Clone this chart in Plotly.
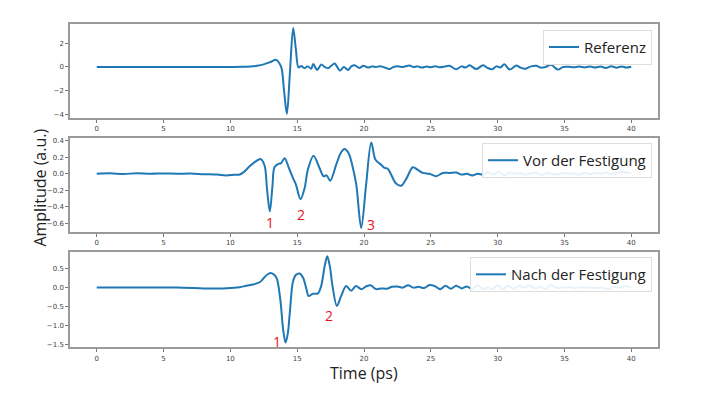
import plotly.graph_objects as go

# ---------------- data ----------------
t_ref = [0, 2, 4, 6, 8, 10, 11, 11.5, 12, 12.5, 13, 13.43, 13.8, 14.0, 14.23, 14.45, 14.7, 14.9, 15.1, 15.3,
         15.55, 15.8, 16.05, 16.2, 16.5, 16.8, 17.05, 17.3, 17.55, 17.8, 18.2, 18.5, 18.8, 19.05, 19.3, 19.65,
         19.95, 20.3, 20.6, 20.9, 21.2, 21.55, 21.9, 22.2, 22.55, 22.9, 23.4, 23.7, 24.0, 24.35, 24.7, 25.0,
         25.35, 25.7, 26.05, 26.4, 26.9, 27.3, 27.6, 27.9, 28.4, 28.9, 29.2, 29.6, 29.9, 30.2, 30.5, 30.9,
         31.4, 31.7, 32.1, 32.5, 32.9, 33.2, 33.6, 34.0, 34.5, 34.9, 35.3, 35.7, 36.1, 36.5, 36.9, 37.3,
         37.7, 38.1, 38.5, 38.9, 39.3, 39.6, 40.0]
v_ref = [0, 0, 0, 0, 0, 0, 0.01, 0.04, 0.1, 0.22, 0.42, 0.6, 0.0, -1.8, -3.94, -0.6, 3.28, 1.5, -0.05, 0.08,
         -0.1, 0.05, -0.15, 0.25, -0.25, 0.2, 0.0, -0.1, 0.1, 0.3, -0.3, 0.0, -0.25, 0.05, 0.15, -0.08,
         0.1, -0.05, 0.05, 0.0, 0.06, -0.05, -0.18, 0.0, 0.05, 0.0, 0.12, 0.0, 0.05, -0.05, 0.03, -0.02,
         0.05, -0.03, 0.04, 0.1, -0.2, 0.05, -0.05, 0.14, -0.18, 0.14, -0.05, -0.2, 0.05, -0.05, 0.22, -0.22,
         0.12, -0.05, -0.15, 0.05, 0.1, -0.05, 0.0, 0.18, -0.22, 0.0, 0.02, -0.02, 0.03, -0.04, 0.03, -0.05,
         0.04, -0.08, 0.05, -0.06, 0.04, -0.05, 0.02]

t_vor = [0, 1, 2, 3, 4, 5, 6, 7, 8, 9, 9.7, 10.3, 10.7, 11.0, 11.44, 11.9, 12.26, 12.56, 12.75, 12.95,
         13.15, 13.3, 13.6, 13.8, 14.06, 14.38, 14.68, 14.9, 15.25, 15.55, 15.8, 16.22, 16.67, 16.97, 17.2,
         17.47, 17.92, 18.25, 18.54, 18.85, 19.1, 19.42, 19.79, 20.16, 20.54, 20.86, 21.28, 21.55, 21.78,
         22.0, 22.4, 22.78, 23.2, 23.65, 24.0, 24.4, 24.9, 25.4, 25.9, 26.4, 26.9, 27.3, 27.7, 28.1, 28.5,
         28.9, 29.3, 29.7, 30.1, 30.5, 30.9, 31.3, 31.7, 32.1, 32.5, 32.9, 33.3, 33.7, 34.1, 34.5, 34.9,
         35.3, 35.7, 36.1, 36.5, 36.9, 37.3, 37.7, 38.1, 38.5, 38.9, 39.3, 39.7, 40.0]
v_vor = [0, 0.005, -0.003, 0.006, 0.0, 0.004, 0.0, 0.002, -0.005, -0.01, -0.02, -0.012, -0.01, 0.02, 0.09,
         0.15, 0.18, 0.1, -0.2, -0.46, -0.15, 0.08, 0.12, 0.13, 0.19, 0.07, -0.05, -0.13, -0.31, -0.18,
         0.05, 0.22, 0.07, -0.03, -0.02, -0.085, 0.11, 0.25, 0.3, 0.25, 0.12, -0.13, -0.66, -0.13, 0.38,
         0.17, 0.11, 0.07, 0.06, 0.0, -0.12, -0.145, -0.05, 0.08, 0.05, 0.01, 0.0, -0.03, 0.01, 0.01, 0.015,
         -0.01, 0.0, -0.02, 0.0, -0.01, 0.015, -0.01, 0.02, -0.02, 0.015, 0.0, 0.01, -0.01, 0.005, 0.01,
         -0.015, 0.01, 0.0, -0.01, 0.01, 0.0, 0.005, -0.01, 0.01, -0.005, 0.01, 0.0, 0.015, -0.005, 0.01,
         0.02, 0.015, 0.005]

t_nach = [0, 2, 4, 6, 8, 9, 10, 10.7, 11.2, 11.7, 12.19, 12.5, 12.8, 13.06, 13.43, 13.73, 13.95, 14.13, 14.3,
          14.45, 14.68, 14.9, 15.18, 15.45, 15.7, 15.85, 16.17, 16.55, 16.8, 17.05, 17.25, 17.45, 17.62,
          17.97, 18.3, 18.67, 19.04, 19.4, 19.8, 20.15, 20.5, 20.9, 21.3, 21.7, 22.1, 22.5, 22.9, 23.3, 23.7,
          24.1, 24.5, 24.9, 25.3, 25.7, 26.1, 26.5, 26.9, 27.3, 27.7, 28.1, 28.5, 28.9, 29.3, 29.6, 30.0,
          30.4, 30.8, 31.2, 31.6, 32.0, 32.4, 32.8, 33.2, 33.6, 34.0, 34.4, 34.8, 35.3, 35.8, 36.3, 36.8,
          37.3, 37.8, 38.3, 38.7, 39.1, 39.5, 40.0]
v_nach = [0, 0.005, 0.0, 0.0, -0.02, -0.025, -0.01, 0.01, 0.05, 0.08, 0.14, 0.25, 0.35, 0.38, 0.27, -0.29,
          -1.1, -1.44, -1.2, -0.65, 0.15, 0.33, 0.37, 0.25, -0.05, -0.22, -0.16, -0.15, 0.05, 0.55, 0.82,
          0.55, 0.1, -0.48, -0.21, 0.04, -0.08, 0.04, -0.04, 0.03, 0.06, -0.04, -0.02, -0.03, 0.02, 0.03,
          0.0, 0.06, 0.0, 0.02, -0.01, 0.07, 0.04, -0.04, 0.05, -0.03, 0.05, -0.02, 0.03, -0.04, 0.06, -0.03,
          0.0, -0.04, 0.06, -0.04, 0.05, -0.03, 0.04, 0.0, 0.06, -0.02, 0.02, -0.03, 0.07, -0.01, 0.0, 0.01,
          -0.01, 0.01, 0.0, -0.01, 0.0, -0.04, 0.02, 0.0, 0.04, 0.0]

names = ["Referenz", "Vor der Festigung", "Nach der Festigung"]
x_ticks = [0, 5, 10, 15, 20, 25, 30, 35, 40]

# peak labels: (panel, t, amplitude, text)
peak_labels = [(2, 13.0, -0.59, "1"), (2, 15.25, -0.50, "2"), (2, 20.5, -0.62, "3"),
               (3, 13.5, -1.40, "1"), (3, 17.35, -0.73, "2")]

# ---------------- figure ----------------
BLUE = "#1f77b4"
fig = go.Figure()
series = [(t_ref, v_ref), (t_vor, v_vor), (t_nach, v_nach)]
for i, (t, v) in enumerate(series):
    suf = "" if i == 0 else str(i + 1)
    fig.add_trace(go.Scatter(x=t, y=v, mode="lines", name=names[i],
                             line=dict(color=BLUE, width=2, shape="spline", smoothing=0.9),
                             xaxis="x" + suf, yaxis="y" + suf,
                             legend="legend" + suf, showlegend=True))

OFF = 8  # page body margin
W, H = 705 - OFF, 397 - OFF


def px(p):
    return (p - OFF) / W


def py(p):
    return 1 - (p - OFF) / H


xdom = [px(70), px(658)]
ydoms = [[py(118), py(23)], [py(233), py(138)], [py(349), py(253)]]
yranges = [[-4.3, 3.62], [-0.712, 0.435], [-1.565, 0.93]]
yticks = [[-4, -2, 0, 2], [-0.6, -0.4, -0.2, 0.0, 0.2, 0.4], [-1.5, -1.0, -0.5, 0.0, 0.5]]
yfmt = ["d", ".1f", ".1f"]
leg_y = [py(29), py(143), py(258)]

axis_common = dict(showline=True, mirror=True, linecolor="#9a9a9a", linewidth=1.5,
                   ticks="outside", ticklen=3, tickcolor="#777", showgrid=False, zeroline=False,
                   tickfont=dict(family="DejaVu Sans", size=7, color="#444"))
layout = dict(width=W, height=H, margin=dict(l=0, r=0, t=0, b=0),
              paper_bgcolor="white", plot_bgcolor="white", showlegend=True)
for i in range(3):
    suf = "" if i == 0 else str(i + 1)
    layout["xaxis" + suf] = dict(domain=xdom, range=[-2, 42], tickvals=x_ticks,
                                 anchor="y" + suf, **axis_common)
    layout["yaxis" + suf] = dict(domain=ydoms[i], range=yranges[i], tickvals=yticks[i],
                                 tickformat=yfmt[i], anchor="x" + suf, **axis_common)
    layout["legend" + suf] = dict(x=px(652), xanchor="right", y=leg_y[i], yanchor="top",
                                  bgcolor="rgba(255,255,255,0.9)", bordercolor="#dddddd",
                                  borderwidth=1, font=dict(family="Open Sans", size=15, color="#222"),
                                  itemwidth=30, tracegroupgap=0)
fig.update_layout(**layout)

annotations = [
    dict(text="Amplitude (a.u.)", xref="paper", yref="paper", x=px(40), y=py(188),
         xanchor="center", yanchor="middle",
         textangle=-90, showarrow=False, font=dict(family="Open Sans", size=16, color="#222")),
    dict(text="Time (ps)", xref="paper", yref="paper", x=px(364), y=py(375),
         xanchor="center", yanchor="middle",
         showarrow=False, font=dict(family="Open Sans", size=16, color="#222")),
]
for panel, tx, ty, txt in peak_labels:
    suf = "" if panel == 1 else str(panel)
    annotations.append(dict(text=txt, x=tx, y=ty, xref="x" + suf, yref="y" + suf,
                            xanchor="center", yanchor="middle",
                            showarrow=False, font=dict(family="Open Sans", size=14, color="#e8141b")))
fig.update_layout(annotations=annotations)

fig.write_html("out.html")
